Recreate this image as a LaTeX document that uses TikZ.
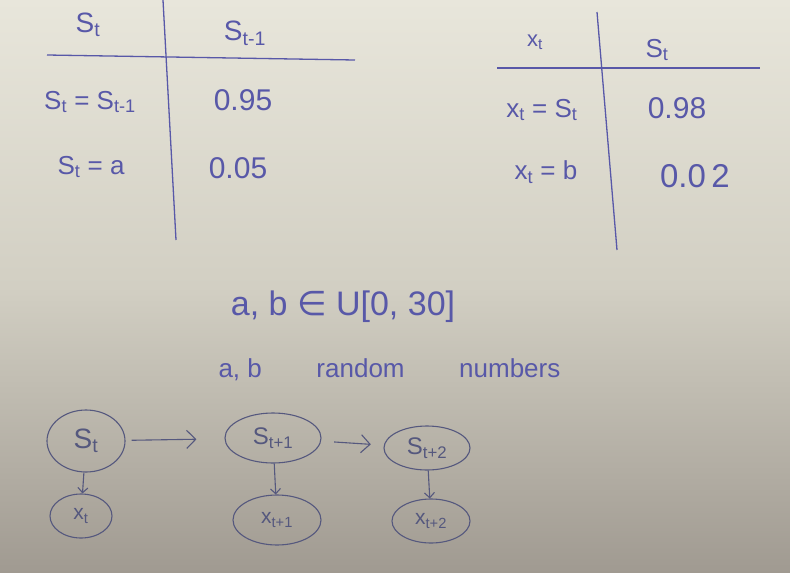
\documentclass[tikz,border=0pt]{standalone}
\usepackage{fontspec}
\setmainfont{Liberation Sans}
\newfontfamily\symfont{DejaVu Sans}
\usetikzlibrary{arrows.meta,positioning,shapes.geometric}
\definecolor{ink}{HTML}{5858A8}
\definecolor{inkdark}{HTML}{55587E}
\definecolor{papertop}{HTML}{E8E6DB}
\definecolor{papermid}{HTML}{D2CFC3}
\definecolor{paperbot}{HTML}{A09A91}
\newcommand{\subt}[2]{#1\textsubscript{#2}}

\begin{document}
\begin{tikzpicture}[x=1pt,y=-1pt,font=\fontsize{26}{30}\selectfont,
  state/.style={ellipse,draw=inkdark,line width=1.1pt,text=inkdark,inner sep=1pt},
  hop/.style={-{Straight Barb[length=9pt,width=18pt]},line width=1.1pt,draw=inkdark},
  emit/.style={-{Straight Barb[length=5pt,width=10pt]},line width=1.1pt,draw=inkdark}]
  \useasboundingbox (0,0) rectangle (790,573);
  \shade[top color=papertop,bottom color=paperbot,middle color=papermid] (0,0) rectangle (790,573);

  % transition table
  \draw[ink,line width=1.3pt] (163,0) -- (176,240);
  \draw[ink,line width=1.3pt] (47,55) -- (355,60);
  \node[text=ink,font=\fontsize{28}{32}\selectfont] (transHead) at (88,25) {\subt{S}{t}};
  \node[text=ink,font=\fontsize{28}{32}\selectfont] (transPrev) at (245,33) {\subt{S}{t-1}};
  \node[text=ink] (transKeep) at (90,102) {\subt{S}{t} = \subt{S}{t-1}};
  \node[text=ink,font=\fontsize{30}{34}\selectfont] (transKeepP) at (243,100) {0.95};
  \node[text=ink] (transJump) at (91,167) {\subt{S}{t} = a};
  \node[text=ink,font=\fontsize{30}{34}\selectfont] (transJumpP) at (238,168) {0.05};

  % emission table
  \draw[ink,line width=1.3pt] (597,12) -- (617,250);
  \draw[ink,line width=1.3pt] (497,68) -- (760,68);
  \node[text=ink,font=\fontsize{22}{26}\selectfont] (emitHead) at (535,42) {\subt{x}{t}};
  \node[text=ink,font=\fontsize{26}{30}\selectfont] (emitState) at (657,50) {\subt{S}{t}};
  \node[text=ink] (emitKeep) at (542,110) {\subt{x}{t} = \subt{S}{t}};
  \node[text=ink,font=\fontsize{30}{34}\selectfont] (emitKeepP) at (677,108) {0.98};
  \node[text=ink] (emitNoise) at (546,172) {\subt{x}{t} = b};
  \node[text=ink,font=\fontsize{33}{37}\selectfont] (emitNoiseP) at (695,176) {0.0\,2};

  \node[text=ink,font=\fontsize{34}{38}\selectfont] (range) at (343,307) {a, b {\symfont ∈} U[0, 30]};
  \node[text=ink,anchor=west] (note) at (215,370)
    {a, b\hspace{2.1em}random\hspace{2.1em}numbers};

  % chain
  \node[state,minimum width=78pt,minimum height=62pt,font=\fontsize{28}{32}\selectfont] (s0) at (86,441) {\subt{S}{t}};
  \node[state,minimum width=96pt,minimum height=50pt,font=\fontsize{24}{28}\selectfont] (s1) at (273,438) {\subt{S}{t+1}};
  \node[state,minimum width=86pt,minimum height=44pt,font=\fontsize{24}{28}\selectfont] (s2) at (427,448) {\subt{S}{t+2}};
  \node[state,minimum width=62pt,minimum height=44pt,font=\fontsize{21}{25}\selectfont] (x0) at (81,516) {\subt{x}{t}};
  \node[state,minimum width=88pt,minimum height=50pt,font=\fontsize{21}{25}\selectfont] (x1) at (277,520) {\subt{x}{t+1}};
  \node[state,minimum width=78pt,minimum height=44pt,font=\fontsize{21}{25}\selectfont] (x2) at (431,521) {\subt{x}{t+2}};

  \draw[hop,shorten <=6pt,shorten >=28pt] (s0) -- (s1);
  \draw[hop,shorten <=13pt,shorten >=13pt] (s1) -- (s2);
  \draw[emit] (s0) -- (x0);
  \draw[emit] (s1) -- (x1);
  \draw[emit] (s2) -- (x2);
\end{tikzpicture}
\end{document}
